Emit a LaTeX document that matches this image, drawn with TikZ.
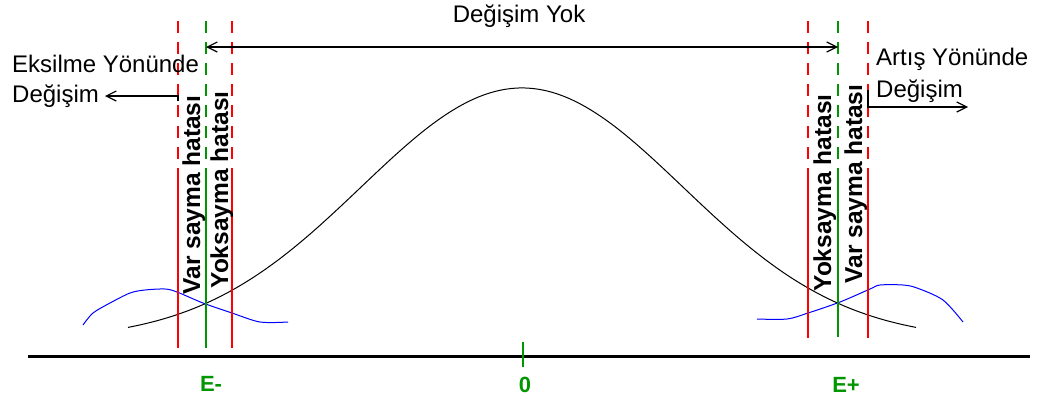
\documentclass[tikz,border=0pt]{standalone}
\usepackage{fontspec}
\setmainfont{Liberation Sans}
\usetikzlibrary{arrows.meta}
\definecolor{lred}{RGB}{255,0,0}
\definecolor{lgreen}{RGB}{0,150,0}
\definecolor{lblue}{RGB}{0,0,255}
\begin{document}
\begin{tikzpicture}[x=1pt,y=-1pt,
  txt/.style={font=\fontsize{24}{28}\selectfont, inner sep=0pt},
  vtxt/.style={font=\bfseries\fontsize{24.5}{28}\selectfont, inner sep=0pt, rotate=90, anchor=base},
  lbl/.style={font=\bfseries\fontsize{22}{26}\selectfont, text=lgreen, inner sep=0pt, anchor=base},
  redl/.style={draw=lred, line width=1.5pt},
  grnl/.style={draw=lgreen, line width=1.5pt},
  dsh/.style={dash pattern=on 12pt off 9pt},
  arr/.style={-{Straight Barb[length=10pt,width=10pt]}, line width=1.2pt},
  darr/.style={{Straight Barb[length=10pt,width=10pt]}-{Straight Barb[length=10pt,width=10pt]}, line width=1.2pt},
  curve/.style={line width=1pt},
]
\useasboundingbox (0,0) rectangle (1040,400);

% bell curve
\draw[curve, black] plot[domain=128:916, samples=120, smooth] (\x, {340-252*exp(-0.5*((\x-522)/161)^2)});
% blue curves
\draw[curve, lblue] plot[smooth] coordinates {(83,325) (93,313) (110,303) (130,293) (145,290) (165,289) (177,292) (203,303) (232,313) (260,322) (288,322)};
\draw[curve, lblue] plot[smooth] coordinates {(757,319) (787,319) (808,313) (840,302) (870,289) (880,285) (903,285) (917,288) (943,300) (963,322)};

% vertical lines
\foreach \xx/\st/\yb in {178/redl/348, 206/grnl/348, 232/redl/348, 808/redl/338, 838/grnl/337, 868/redl/338}{
  \coordinate (t\xx) at (\xx,21);
  \coordinate (m\xx) at (\xx,172);
  \coordinate (b\xx) at (\xx,\yb);
  \draw[\st, dsh] (t\xx) -- (m\xx);
  \draw[\st] (m\xx) -- (b\xx);
}

% axis
\coordinate (axl) at (28,356);
\coordinate (axr) at (1030,356);
\draw[line width=3pt] (axl) -- (axr);
\coordinate (tk0) at (523,342);
\coordinate (tk1) at (523,367);
\draw[grnl] (tk0) -- (tk1);

% labels
\node[lbl] (em) at (211,391) {E-};
\node[lbl] (zero) at (525,392) {0};
\node[lbl] (ep) at (846,392) {E+};

% texts
\node[txt, anchor=base] (yok) at (519,22) {Değişim Yok};
\node[txt, anchor=base west] (eks) at (12,72) {Eksilme Yönünde};
\node[txt, anchor=base west] (degl) at (12,102) {Değişim};
\node[txt, anchor=base west] (art) at (876,65) {Artış Yönünde};
\node[txt, anchor=base west] (degr) at (876,97) {Değişim};

% rotated texts
\node[vtxt] (v1) at (200,195) {Var sayma hatası};
\node[vtxt] (v2) at (228,190) {Yoksayma hatası};
\node[vtxt] (v3) at (831,193) {Yoksayma hatası};
\node[vtxt] (v4) at (862,184) {Var sayma hatası};

% arrows
\coordinate (ta) at (206,47);
\coordinate (tb) at (838,47);
\draw[darr] (ta) -- (tb);
\coordinate (la0) at (178,101);
\coordinate (la1) at (178,96);
\coordinate (la2) at (105,96);
\draw[arr] (la0) -- (la1) -- (la2);
\coordinate (ra0) at (868,90);
\coordinate (ra1) at (868,107);
\coordinate (ra2) at (968,107);
\draw[arr] (ra0) -- (ra1) -- (ra2);
\end{tikzpicture}
\end{document}
